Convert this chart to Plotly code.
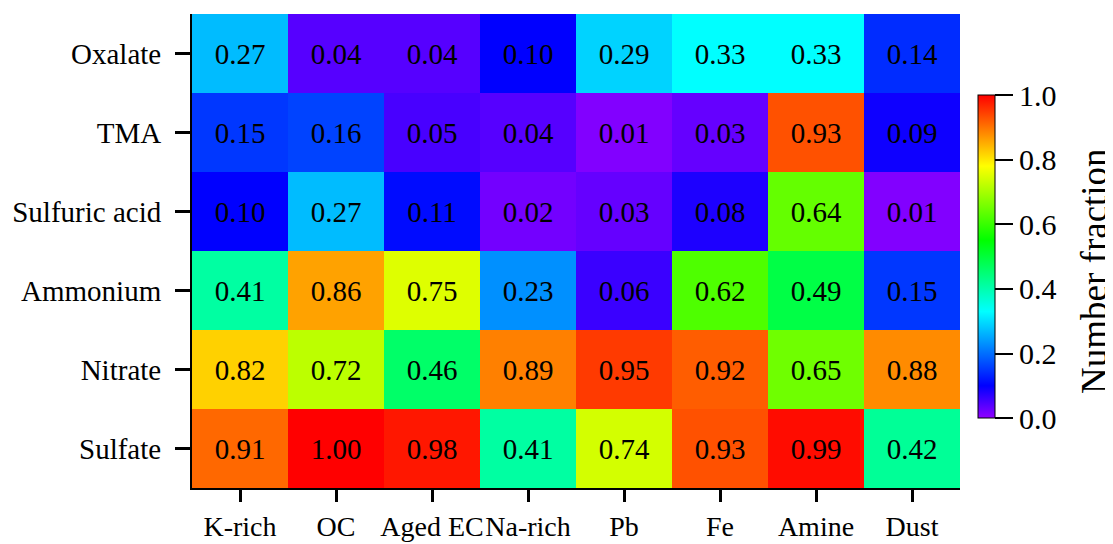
import plotly.graph_objects as go

particle_types = ["K-rich", "OC", "Aged EC", "Na-rich", "Pb", "Fe", "Amine", "Dust"]
species = ["Oxalate", "TMA", "Sulfuric acid", "Ammonium", "Nitrate", "Sulfate"]

oxalate = [0.27, 0.04, 0.04, 0.10, 0.29, 0.33, 0.33, 0.14]
tma = [0.15, 0.16, 0.05, 0.04, 0.01, 0.03, 0.93, 0.09]
sulfuric_acid = [0.10, 0.27, 0.11, 0.02, 0.03, 0.08, 0.64, 0.01]
ammonium = [0.41, 0.86, 0.75, 0.23, 0.06, 0.62, 0.49, 0.15]
nitrate = [0.82, 0.72, 0.46, 0.89, 0.95, 0.92, 0.65, 0.88]
sulfate = [0.91, 1.00, 0.98, 0.41, 0.74, 0.93, 0.99, 0.42]

z = [oxalate, tma, sulfuric_acid, ammonium, nitrate, sulfate]

colorscale = [
    [0.0, "#9000ff"],
    [0.10, "#0000ff"],
    [0.33, "#00ffff"],
    [0.55, "#00ff00"],
    [0.78, "#ffff00"],
    [1.0, "#ff0000"],
]

FONT = "Liberation Serif, Times New Roman, serif"

fig = go.Figure(
    go.Heatmap(
        z=z,
        x=particle_types,
        y=species,
        zmin=0,
        zmax=1,
        colorscale=colorscale,
        texttemplate="%{z:.2f}",
        textfont=dict(family=FONT, size=29, color="black"),
        colorbar=dict(
            x=1.0234,
            xanchor="left",
            xpad=0,
            ypad=0,
            y=0.488,
            yanchor="middle",
            len=0.681,
            lenmode="fraction",
            thickness=17,
            thicknessmode="pixels",
            outlinewidth=1,
            outlinecolor="black",
            tickmode="array",
            tickvals=[0, 0.2, 0.4, 0.6, 0.8, 1.0],
            ticktext=["0.0", "0.2", "0.4", "0.6", "0.8", "1.0"],
            ticks="outside",
            ticklen=18,
            tickwidth=2,
            tickcolor="black",
            tickfont=dict(family=FONT, size=30, color="black"),
        ),
    )
)

fig.add_annotation(
    text="Number fraction",
    xref="paper",
    yref="paper",
    x=1.1758,
    y=0.458,
    xanchor="center",
    yanchor="middle",
    textangle=-90,
    showarrow=False,
    font=dict(family=FONT, size=37, color="black"),
)

fig.update_layout(
    width=1113,
    height=544,
    margin=dict(l=184, r=161, t=6, b=64, autoexpand=False),
    paper_bgcolor="white",
    plot_bgcolor="white",
    font=dict(family=FONT, color="black"),
)

fig.update_xaxes(
    showline=True,
    linecolor="black",
    linewidth=2,
    ticks="outside",
    ticklen=12,
    tickwidth=3,
    tickcolor="black",
    tickangle=0,
    tickfont=dict(family=FONT, size=28, color="black"),
    showgrid=False,
    zeroline=False,
)
fig.update_yaxes(
    autorange="reversed",
    showline=True,
    linecolor="black",
    linewidth=2,
    ticks="outside",
    ticklen=15,
    tickwidth=3,
    tickcolor="black",
    ticklabelstandoff=8,
    tickfont=dict(family=FONT, size=29, color="black"),
    showgrid=False,
    zeroline=False,
)

fig.write_html("out.html")
